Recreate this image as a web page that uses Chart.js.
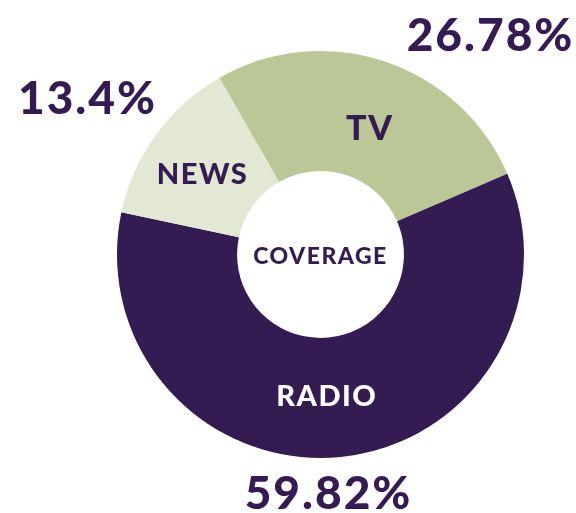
<!DOCTYPE html>
<html>
<head>
<meta charset="utf-8">
<script src="https://cdn.jsdelivr.net/npm/chart.js@4"></script>
<style>
  html, body { margin: 0; padding: 0; background: #fff; }
  #wrap { width: 576px; height: 513px; }
</style>
</head>
<body>
<div id="wrap"><canvas id="coverage"></canvas></div>
<script>
// datos del grafico
const categories = ["TV", "RADIO", "NEWS"];
const values = [26.78, 59.82, 13.4];
const percentLabels = ["26.78%", "59.82%", "13.4%"];
const centerLabel = "COVERAGE";

const purple = "#341b52";
const colors = ["#bbc797", purple, "#e2e8d4"];
const labelColors = [purple, "#ffffff", purple];

const FONT = "Lato, 'Noto Sans', sans-serif";

// donde van los porcentajes (relativo al centro del donut)
const outerPos = [
  { dx: 170, dy: -218 },
  { dx: 8, dy: 240 },
  { dx: -233, dy: -155 },
];
// pequeño ajuste de los nombres dentro de cada trozo
const innerNudge = [
  { dx: 4, dy: 11 },
  { dx: -8, dy: -1 },
  { dx: -2, dy: 5 },
];

const labelsPlugin = {
  id: "labelsPlugin",
  afterDraw(chart) {
    const ctx = chart.ctx;
    const meta = chart.getDatasetMeta(0);
    const cx = meta.data[0].x;
    const cy = meta.data[0].y;
    ctx.save();
    ctx.textAlign = "center";
    ctx.textBaseline = "middle";

    meta.data.forEach((arc, i) => {
      const p = arc.tooltipPosition();
      ctx.fillStyle = labelColors[i];
      ctx.letterSpacing = "1.5px";
      ctx.font = (i === 0 ? "900 34px " : "900 29px ") + FONT;
      ctx.fillText(categories[i], p.x + innerNudge[i].dx, p.y + innerNudge[i].dy);

      ctx.fillStyle = purple;
      ctx.letterSpacing = "2px";
      ctx.font = "900 46px " + FONT;
      ctx.fillText(percentLabels[i], cx + outerPos[i].dx, cy + outerPos[i].dy);
    });

    ctx.fillStyle = purple;
    ctx.letterSpacing = "1.5px";
    ctx.font = "900 23px " + FONT;
    ctx.fillText(centerLabel, cx, cy + 2);
    ctx.restore();
  },
};

const chart = new Chart(document.getElementById("coverage"), {
  type: "doughnut",
  data: {
    labels: categories,
    datasets: [
      {
        data: values,
        backgroundColor: colors,
        borderWidth: 0,
      },
    ],
  },
  options: {
    responsive: true,
    maintainAspectRatio: false,
    animation: false,
    rotation: -29.8,
    cutout: "41%",
    layout: {
      padding: { left: 117, right: 52, top: 51, bottom: 55 },
    },
    plugins: {
      legend: { display: false },
      tooltip: { enabled: false },
    },
  },
  plugins: [labelsPlugin],
});
</script>
</body>
</html>
